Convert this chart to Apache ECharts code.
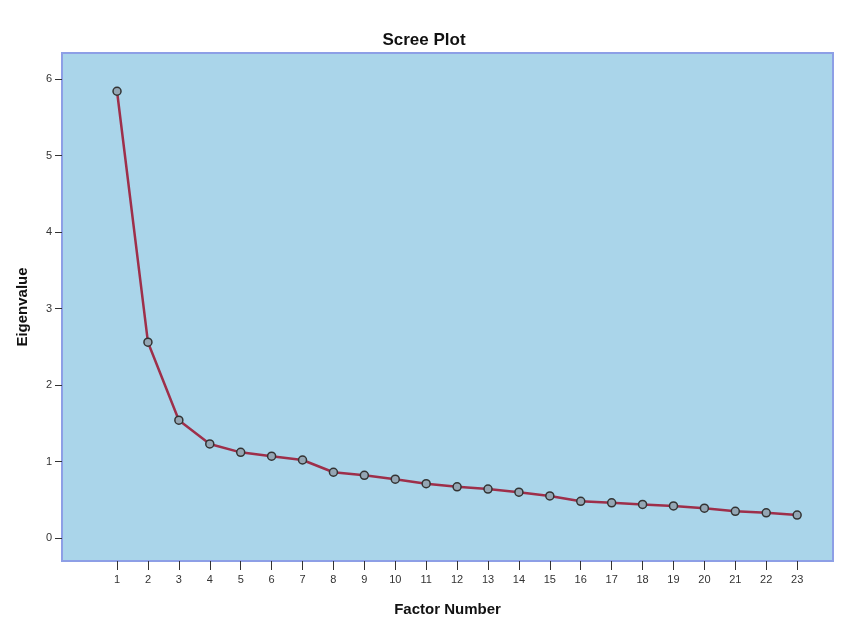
<!DOCTYPE html>
<html lang="en">
<head>
    <meta charset="UTF-8">
    <title>Scree Plot</title>
    <script src="https://cdn.jsdelivr.net/npm/echarts@6/dist/echarts.min.js"></script>
    <style>
        html, body { margin: 0; padding: 0; background: #fff; }
        #main { width: 848px; height: 630px; }
    </style>
</head>
<body>
<div id="main"></div>
<script type="text/javascript">
    // factor numbers and their eigenvalues
    var factors = [1, 2, 3, 4, 5, 6, 7, 8, 9, 10, 11, 12, 13, 14, 15, 16, 17, 18, 19, 20, 21, 22, 23];
    var eigenvalues = [5.84, 2.56, 1.54, 1.23, 1.12, 1.07, 1.02, 0.86, 0.82, 0.77, 0.71, 0.67,
        0.64, 0.60, 0.55, 0.48, 0.46, 0.44, 0.42, 0.39, 0.35, 0.33, 0.30];
    var yTicks = [0, 1, 2, 3, 4, 5, 6];

    var points = [];
    for (var i = 0; i < factors.length; i++) {
        points.push([factors[i], eigenvalues[i]]);
    }

    var myChart = echarts.init(document.getElementById('main'));
    var font = '"Liberation Sans", Arial, sans-serif';

    myChart.setOption({
        animation: false,
        title: {
            text: 'Scree Plot',
            left: 'center',
            top: 27,
            textStyle: { fontFamily: font, fontSize: 17, fontWeight: 'bold', color: '#111' }
        },
        grid: {
            left: 62, top: 53, right: 15, bottom: 69,
            show: true,
            backgroundColor: '#aad5ea',
            borderColor: '#8d9fe6',
            borderWidth: 2
        },
        xAxis: {
            type: 'value',
            min: -0.78,
            max: 24.16,
            name: 'Factor Number',
            nameLocation: 'middle',
            nameGap: 41,
            nameTextStyle: { fontFamily: font, fontSize: 15, fontWeight: 'bold', color: '#111' },
            axisLine: { show: false, onZero: false },
            splitLine: { show: false },
            axisTick: { show: true, length: 9, customValues: factors, lineStyle: { color: '#333', width: 1 } },
            axisLabel: { customValues: factors, margin: 13, fontFamily: font, fontSize: 11, color: '#333' }
        },
        yAxis: {
            type: 'value',
            min: -0.30,
            max: 6.34,
            name: 'Eigenvalue',
            nameLocation: 'middle',
            nameGap: 32,
            nameTextStyle: { fontFamily: font, fontSize: 15, fontWeight: 'bold', color: '#111' },
            axisLine: { show: false, onZero: false },
            splitLine: { show: false },
            axisTick: { show: true, length: 7, customValues: yTicks, lineStyle: { color: '#333', width: 1 } },
            axisLabel: { customValues: yTicks, margin: 10, fontFamily: font, fontSize: 11, color: '#333' }
        },
        series: [{
            type: 'line',
            data: points,
            symbol: 'circle',
            symbolSize: 8,
            lineStyle: { color: '#9e2f4a', width: 2.5 },
            itemStyle: { color: '#94a6b4', borderColor: '#333', borderWidth: 1.5 }
        }]
    });
</script>
</body>
</html>
